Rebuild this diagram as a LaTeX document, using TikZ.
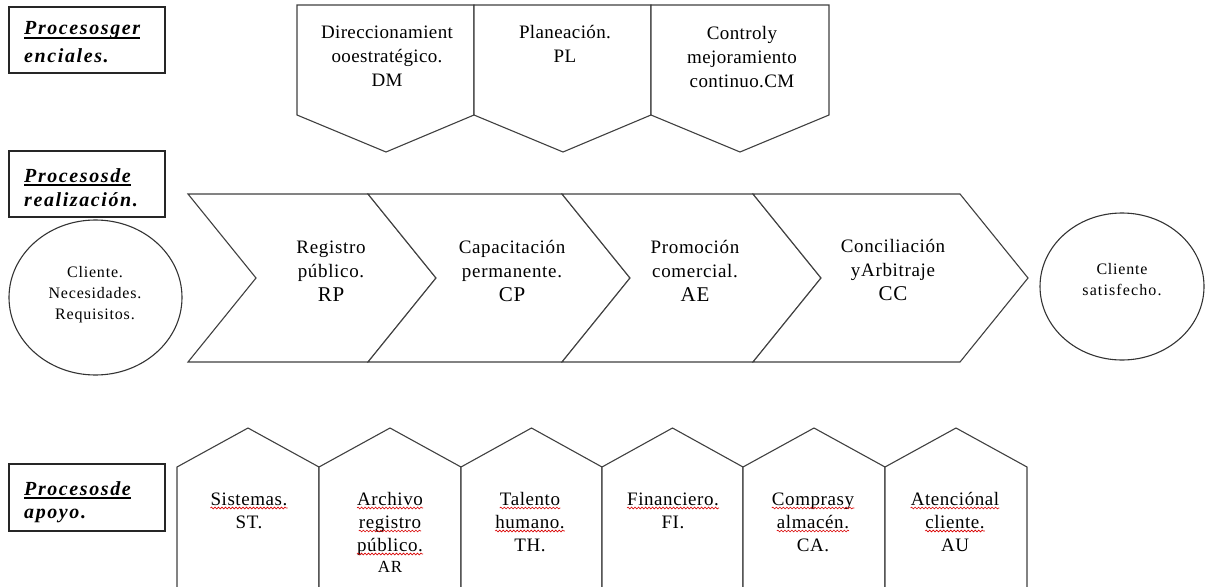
\documentclass[tikz,border=0pt]{standalone}
\usepackage{fontspec}
\setmainfont{Liberation Serif}
\usetikzlibrary{shapes.geometric,decorations.pathmorphing}
\begin{document}
\begin{tikzpicture}[x=1pt,y=-1pt,
  shp/.style={draw=black!75,line width=1.1pt,fill=white,line join=miter},
  lbox/.style={draw=black!85,line width=1.1pt},
  lab/.style={font=\fontsize{20}{24}\selectfont\bfseries\itshape\addfontfeatures{LetterSpace=8},anchor=base west,inner sep=0pt},
  ul/.style={line width=1.6pt},
  txt/.style={font=\fontsize{19}{24}\selectfont\addfontfeatures{LetterSpace=2},align=center,inner sep=0pt},
  ctxt/.style={font=\fontsize{19}{24}\selectfont\addfontfeatures{LetterSpace=3.5},align=center,inner sep=0pt},
  btxt/.style={font=\fontsize{19}{23}\selectfont\addfontfeatures{LetterSpace=3},anchor=base,inner sep=0pt},
  stxt/.style={font=\fontsize{16}{21}\selectfont\addfontfeatures{LetterSpace=5},align=center,inner sep=0pt},
  wavy/.style={draw=red!85!black,line width=0.6pt,decorate,decoration={snake,amplitude=0.9pt,segment length=3.5pt}},
  circ/.style={ellipse,draw=black!80,line width=1.1pt,inner sep=0pt}]
\useasboundingbox (0,0) rectangle (1206,586);
\clip (0,0) rectangle (1206,586);

% ---------- label boxes ----------
\draw[lbox] (9,7) rectangle (165,73);
\node[lab] (g1) at (24,35) {Procesosger};
\node[lab] (g2) at (24,63) {enciales.};
\draw[ul] (g1.base west)++(0,3) -- ([yshift=-3pt]g1.base east);

\draw[lbox] (9,151) rectangle (165,217);
\node[lab] (r1) at (24,182) {Procesosde};
\node[lab] (r2) at (24,206) {realización.};
\draw[ul] (r1.base west)++(0,3) -- ([yshift=-3pt]r1.base east);

\draw[lbox] (9,464) rectangle (165,531);
\node[lab] (a1) at (24,495) {Procesosde};
\node[lab] (a2) at (24,518) {apoyo.};
\draw[ul] (a1.base west)++(0,3) -- ([yshift=-3pt]a1.base east);

% ---------- top pentagons ----------
\draw[shp] (297,5) -- (474,5) -- (474,115) -- (386,152) -- (297,115) -- cycle;
\draw[shp] (474,5) -- (651,5) -- (651,115) -- (563,152) -- (474,115) -- cycle;
\draw[shp] (651,5) -- (829,5) -- (829,115) -- (740,152) -- (651,115) -- cycle;
\node[txt] (dm) at (387,56) {Direccionamient\\ooestratégico.\\DM};
\node[txt] (pl) at (565,44) {Planeación.\\PL};
\node[txt] (cm) at (742,57) {Controly\\mejoramiento\\continuo.CM};

% ---------- chevrons ----------
\draw[shp] (188,194) -- (368,194) -- (436,278) -- (368,362) -- (188,362) -- (256,278) -- cycle;
\draw[shp] (368,194) -- (562,194) -- (630,278) -- (562,362) -- (368,362) -- (436,278) -- cycle;
\draw[shp] (562,194) -- (753,194) -- (821,278) -- (753,362) -- (562,362) -- (630,278) -- cycle;
\draw[shp] (753,194) -- (960,194) -- (1028,278) -- (960,362) -- (753,362) -- (821,278) -- cycle;
\node[ctxt] (rp) at (331,271) {Registro\\público.\\{\fontsize{21}{24}\selectfont RP}};
\node[ctxt] (cp) at (512,271) {Capacitación\\permanente.\\{\fontsize{21}{24}\selectfont CP}};
\node[ctxt] (ae) at (695,271) {Promoción\\comercial.\\{\fontsize{21}{24}\selectfont AE}};
\node[ctxt] (cc) at (893,270) {Conciliación\\yArbitraje\\{\fontsize{21}{24}\selectfont CC}};

% ---------- circles ----------
\node[circ,minimum width=173pt,minimum height=155pt] (cl) at (95.5,297.5) {};
\node[stxt] (clt) at (95,295) {Cliente.\\Necesidades.\\Requisitos.};
\node[circ,minimum width=164pt,minimum height=147pt] (cs) at (1122,286.5) {};
\node[stxt] (cst) at (1122,280) {Cliente\\\addfontfeatures{LetterSpace=7}satisfecho.};

% ---------- bottom pentagons ----------
\foreach \xl/\xr in {177/319,319/461,461/602,602/743,743/885,885/1027}{
  \draw[shp] (\xl,600) -- (\xl,467) -- ({(\xl+\xr)/2},428) -- (\xr,467) -- (\xr,600);
}
% Sistemas
\node[btxt] (s1) at (249,505) {Sistemas.};
\node[btxt] (s2) at (249,528) {ST.};
% Archivo
\node[btxt] (ar1) at (390,505) {Archivo};
\node[btxt] (ar2) at (390,528) {registro};
\node[btxt] (ar3) at (390,551) {público.};
\node[btxt,font=\fontsize{17}{20}\selectfont\addfontfeatures{LetterSpace=5}] (ar4) at (390,572) {AR};
% Talento
\node[btxt] (th1) at (530,505) {Talento};
\node[btxt] (th2) at (530,528) {humano.};
\node[btxt] (th3) at (530,551) {TH.};
% Financiero
\node[btxt] (fi1) at (673,505) {Financiero.};
\node[btxt] (fi2) at (673,528) {FI.};
% Compras
\node[btxt] (ca1) at (813,505) {Comprasy};
\node[btxt] (ca2) at (813,528) {almacén.};
\node[btxt] (ca3) at (813,551) {CA.};
% Atencion
\node[btxt] (au1) at (955,505) {Atenciónal};
\node[btxt] (au2) at (955,528) {cliente.};
\node[btxt] (au3) at (955,551) {AU};

% spell-check squiggles
\foreach \n in {s1,ar1,ar2,ar3,th1,th2,fi1,ca1,ca2,au1,au2}{
  \draw[wavy] ([yshift=-3pt]\n.base west) -- ([yshift=-3pt]\n.base east);
}
\end{tikzpicture}
\end{document}
